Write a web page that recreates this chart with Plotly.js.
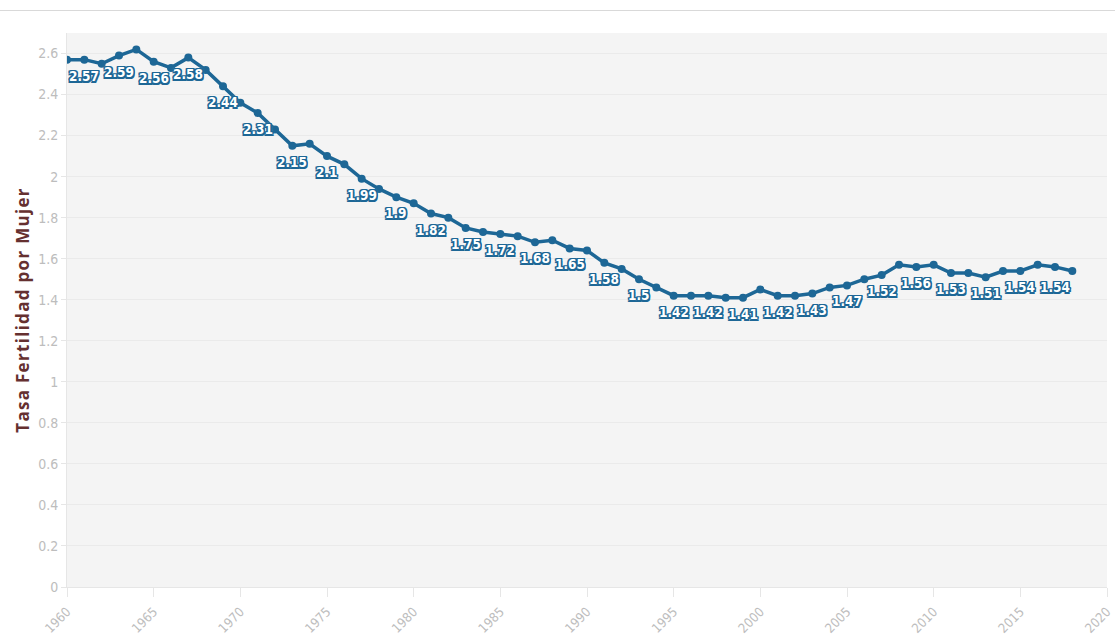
<!DOCTYPE html>
<html>
<head>
<meta charset="utf-8">
<script src="https://cdn.plot.ly/plotly-3.0.1.min.js"></script>
<style>
  html, body { margin: 0; padding: 0; background: #ffffff; }
  #wrap { position: relative; width: 1115px; height: 638px; }
  #chart { width: 1115px; height: 638px; }
  #topline { position: absolute; left: 0; top: 10px; width: 1115px; height: 1px; background: #d9d9d9; z-index: 5; }
</style>
</head>
<body>
<div id="wrap">
  <div id="topline"></div>
  <div id="chart"></div>
</div>
<script>
const years = [1960,1961,1962,1963,1964,1965,1966,1967,1968,1969,
               1970,1971,1972,1973,1974,1975,1976,1977,1978,1979,
               1980,1981,1982,1983,1984,1985,1986,1987,1988,1989,
               1990,1991,1992,1993,1994,1995,1996,1997,1998,1999,
               2000,2001,2002,2003,2004,2005,2006,2007,2008,2009,
               2010,2011,2012,2013,2014,2015,2016,2017,2018];
const fertility = [2.57,2.57,2.55,2.59,2.62,2.56,2.53,2.58,2.52,2.44,
                   2.36,2.31,2.23,2.15,2.16,2.10,2.06,1.99,1.94,1.90,
                   1.87,1.82,1.80,1.75,1.73,1.72,1.71,1.68,1.69,1.65,
                   1.64,1.58,1.55,1.50,1.46,1.42,1.42,1.42,1.41,1.41,
                   1.45,1.42,1.42,1.43,1.46,1.47,1.50,1.52,1.57,1.56,
                   1.57,1.53,1.53,1.51,1.54,1.54,1.57,1.56,1.54];
const labeledYears = [1960,1963,1965,1967,1969,1971,1973,1975,1977,1979,
                      1981,1983,1985,1987,1989,1991,1993,1995,1997,1999,
                      2001,2003,2005,2007,2009,2011,2013,2015,2018];
const yTickVals = [0,0.2,0.4,0.6,0.8,1,1.2,1.4,1.6,1.8,2,2.2,2.4,2.6];
const xTickVals = [1960,1965,1970,1975,1980,1985,1990,1995,2000,2005,2010,2015,2020];
const yTitle = "Tasa Fertilidad por Mujer";

const lineColor = "#1d6796";
const sh = lineColor;
const outline = [
  `-1.5px -1.5px 0 ${sh}`, `1.5px -1.5px 0 ${sh}`, `-1.5px 1.5px 0 ${sh}`, `1.5px 1.5px 0 ${sh}`,
  `0 -1.5px 0 ${sh}`, `0 1.5px 0 ${sh}`, `-1.5px 0 0 ${sh}`, `1.5px 0 0 ${sh}`,
  `0 0 3px rgba(255,255,255,0.9)`
].join(", ");

const tickFamily = "DejaVu Sans Condensed, Liberation Sans Narrow, Roboto";

const lineTrace = {
  x: years,
  y: fertility,
  type: "scatter",
  mode: "lines+markers",
  line: { color: lineColor, width: 3.5 },
  marker: { color: lineColor, size: 8 },
  hoverinfo: "none"
};

const lastYear = years[years.length - 1];
const annotations = years.map((yr, i) => ({ yr, v: fertility[i] }))
  .filter(d => labeledYears.includes(d.yr))
  .map(d => ({
    x: d.yr,
    y: d.v,
    xref: "x",
    yref: "y",
    text: String(d.v),
    showarrow: false,
    xanchor: d.yr === years[0] ? "left" : (d.yr === lastYear ? "right" : "center"),
    yanchor: "middle",
    yshift: -16,
    font: { family: "DejaVu Sans Condensed, Liberation Sans Narrow", size: 13.5, color: "#ffffff", weight: 700, shadow: outline }
  }));

const layout = {
  width: 1115,
  height: 638,
  margin: { l: 67, r: 8, t: 33, b: 51 },
  paper_bgcolor: "#ffffff",
  plot_bgcolor: "#f4f4f4",
  showlegend: false,
  annotations: annotations,
  xaxis: {
    range: [1960, 2020],
    tickmode: "array",
    tickvals: xTickVals,
    ticktext: xTickVals.map(String),
    tickangle: -45,
    ticks: "outside",
    ticklen: 9,
    tickcolor: "#e6e6e6",
    tickwidth: 1,
    ticklabelstandoff: 2,
    showgrid: false,
    zeroline: false,
    showline: true,
    linecolor: "#e6e6e6",
    linewidth: 1,
    tickfont: { family: tickFamily, size: 13, color: "#bdbdbd" }
  },
  yaxis: {
    range: [0, 2.7],
    tickmode: "array",
    tickvals: yTickVals,
    ticktext: yTickVals.map(String),
    ticks: "outside",
    ticklen: 5,
    tickcolor: "#e6e6e6",
    showgrid: true,
    gridcolor: "#eaeaea",
    gridwidth: 1,
    zeroline: false,
    showline: true,
    linecolor: "#e6e6e6",
    tickfont: { family: tickFamily, size: 14, color: "#bdbdbd" },
    title: { text: yTitle, font: { family: "Open Sans, DejaVu Sans", size: 17, color: "#653030", weight: 700 }, standoff: 4 }
  }
};

Plotly.newPlot("chart", [lineTrace], layout, { displayModeBar: false, staticPlot: true }).then(function (gd) {
  const t = gd.querySelector(".ytitle");
  if (t) { t.style.letterSpacing = "1.3px"; }
});
</script>
</body>
</html>
